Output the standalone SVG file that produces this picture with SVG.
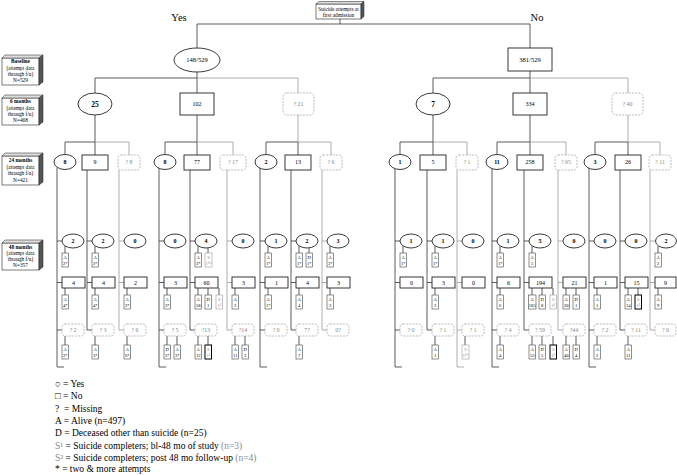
<svg xmlns="http://www.w3.org/2000/svg" width="677" height="475" viewBox="0 0 677 475">
<style>
.l{stroke:#333;stroke-width:.8;fill:none}
.g{stroke:#9a9a9a;stroke-width:.8;fill:none}
.e,.b{fill:#fff;stroke:#222;stroke-width:.9}
.m{fill:#fff;stroke:#aaa;stroke-width:.8;stroke-dasharray:2 1.2}
.s{fill:#fff;stroke:#444;stroke-width:.6}
.sg{fill:#fff;stroke:#999;stroke-width:.6}
.sk{fill:#fff;stroke:#000;stroke-width:1}
.side{fill:#555;stroke:#222;stroke-width:.5}
.top{fill:#ddd;stroke:#222;stroke-width:.5}
text{font-family:"Liberation Serif","Times New Roman",serif;fill:#000}
.c{text-anchor:middle}
.t6{font-size:6px;text-anchor:middle}
.t7{font-size:6.5px;text-anchor:middle}
.lb{font-size:5.3px;text-anchor:middle}
.st{font-size:4.6px;text-anchor:middle}
.bd{font-weight:bold}
.gt{fill:#8a8a8a}
.lg{font-size:9.5px}
</style>

<g id="connectors">
<path class="l" d="M340 19V24M197 24H530M197 24V48M530 24V48M197 72V78M95 78H197M95 78V93M197 78V93M530 71V78M433 78H530M433 78V93M530 78V93"/>
<path class="g" d="M197 78H298V93M530 78H628V93"/>
<path class="l" d="M95 115V142M65 142H95M65 142V154.5M95 142V155M197 115V142M165 142H197M165 142V154.5M197 142V155M266 142H298M266 142V154.5M298 142V155M433 115V142M400 142H433M400 142V154.5M433 142V155M530 115V142M497 142H530M497 142V154.5M530 142V155M595 142H628M595 142V154.5M628 142V155"/>
<path class="g" d="M95 142H129V155M197 142H233V155M298 115V142M298 142H331V155M433 142H467V155M530 142H566V155M628 115V142M628 142H660V155"/>
<path class="l" d="M57 167.5V367H64M57 241H62M57 282.5H62M57 330H62
M87 170V330H92M87 241H92M87 282.5H92
M159 168V367H166M159 241H164M159 282.5H164M159 330H164
M190 170V330H195M190 241H195M190 282.5H195
M260 168V367H267M260 241H265M260 282.5H265M260 330H265
M291 170V330H296M291 241H296M291 282.5H296
M395 168.5V367H402M395 241H400M395 282.5H400M395 330H400
M427 170V330H432M427 241H432M427 282.5H432
M492 168.5V367H499M492 241H497M492 282.5H497M492 330H497
M524 170V330H529M524 241H529M524 282.5H529
M589 168V367H596M589 241H594M589 282.5H594M589 330H594
M620 170V330H625M620 241H625M620 282.5H625"/>
<path class="g" d="M119 170V330H124M119 241H124M119 282.5H124
M227 170V330H232M227 241H232M227 282.5H232
M322 170V330H327M322 241H327M322 282.5H327
M457 170V367H464M457 241H462M457 282.5H462M457 330H462
M558 170V330H563M558 241H563M558 282.5H563
M650 170V330H655M650 241H655M650 282.5H655"/>
<path class="l" d="M65 246V253M65 288V295M65 336V345
M95 246V253M95 288V295M95 336V345
M127 288V295M127 336V345
M167 288V295M167 336V345M177 336V345
M198 246V253M208 248V253M198 288V295M208 288V295M219 288V295M198 336V345M208 336V345
M235 288V295M235 336V345M245 336V345
M268 246V253M268 288V295
M299 246V253M309 248V253M299 288V295M299 336V345
M330 246V253M330 288V295
M403 246V253
M435 246V253M435 288V295M435 336V345
M465 336V345
M500 246V253M500 288V295M500 336V345
M532 246V253M532 288V295M542 288V295M553 288V295M532 336V345M542 336V345M553 336V345
M566 288V295M576 288V295M566 336V345M576 336V345
M597 288V295M597 336V345
M628 288V295M638 288V295M628 336V345
M658 246V253M658 288V295"/>
</g>

<g id="labels">
<g id="lab-baseline"><rect x="2" y="58" width="37" height="27" fill="#fff" stroke="#222" stroke-width=".6"/><polygon class="top" points="2,58 5,55 43,55 39,58"/><polygon class="side" points="39,58 43,55 43,82 39,85"/>
<text class="lb bd" x="20.5" y="63">Baseline</text><text class="lb" x="20.5" y="69.5">(attempt data</text><text class="lb" x="20.5" y="75.5">through f/u)</text><text class="lb" x="20.5" y="81.5">N=529</text></g>
<g id="lab-6m"><rect x="2" y="98" width="37" height="27" fill="#fff" stroke="#222" stroke-width=".6"/><polygon class="top" points="2,98 5,95 43,95 39,98"/><polygon class="side" points="39,98 43,95 43,122 39,125"/>
<text class="lb bd" x="20.5" y="103">6 months</text><text class="lb" x="20.5" y="109.5">(attempt data</text><text class="lb" x="20.5" y="115.5">through f/u)</text><text class="lb" x="20.5" y="121.5">N=468</text></g>
<g id="lab-24m"><rect x="2" y="156" width="37" height="29" fill="#fff" stroke="#222" stroke-width=".6"/><polygon class="top" points="2,156 5,153 43,153 39,156"/><polygon class="side" points="39,156 43,153 43,182 39,185"/>
<text class="lb bd" x="20.5" y="162">24 months</text><text class="lb" x="20.5" y="168.5">(attempt data</text><text class="lb" x="20.5" y="175">through f/u)</text><text class="lb" x="20.5" y="181.5">N=421</text></g>
<g id="lab-48m"><rect x="2" y="243" width="37" height="27" fill="#fff" stroke="#222" stroke-width=".6"/><polygon class="top" points="2,243 5,240 43,240 39,243"/><polygon class="side" points="39,243 43,240 43,267 39,270"/>
<text class="lb bd" x="20.5" y="248.5">48 months</text><text class="lb" x="20.5" y="255">(attempt data</text><text class="lb" x="20.5" y="261">through f/u)</text><text class="lb" x="20.5" y="267">N=357</text></g>
<text x="179" y="21" class="c" font-size="10.5">Yes</text>
<text x="537" y="21" class="c" font-size="10.5">No</text>
</g>

<g id="root"><rect x="316" y="4" width="45" height="15" fill="#fff" stroke="#222" stroke-width=".6"/><polygon class="top" points="316,4 319,1.5 364,1.5 361,4"/><polygon class="side" points="361,4 364,1.5 364,16.5 361,19"/>
<text class="lb" x="338.5" y="10.5">Suicide attempts at</text><text class="lb" x="338.5" y="16.5">first admission</text></g>

<g id="n-148"><ellipse class="e" cx="197" cy="60" rx="23" ry="12"/><text class="t7" x="197" y="62.3">148/529</text></g>
<g id="n-381"><rect class="b" x="508" y="48" width="44" height="23"/><text class="t7" x="530" y="61.8">381/529</text></g>

<g id="n-25"><ellipse class="e" cx="95" cy="104" rx="17" ry="11"/><text class="c bd" font-size="7.5" x="95" y="106.7">25</text></g>
<g id="n-102"><rect class="b" x="180" y="93" width="34" height="22"/><text class="t6" x="197" y="106">102</text></g>
<g id="n-m21"><rect class="m" x="283" y="93" width="31" height="22" rx="4"/><text class="t6 gt" x="298.5" y="106">? 21</text></g>
<g id="n-7"><ellipse class="e" cx="433" cy="104" rx="17" ry="11"/><text class="c bd" font-size="7.5" x="433" y="106.7">7</text></g>
<g id="n-334"><rect class="b" x="513" y="93" width="34" height="22"/><text class="t6" x="530" y="106">334</text></g>
<g id="n-m40"><rect class="m" x="612" y="93" width="31" height="22" rx="4"/><text class="t6 gt" x="627.5" y="106">? 40</text></g>

<g id="level24">
<g id="a8"><ellipse class="e" cx="65" cy="162" rx="11" ry="7.5"/><text class="t6 bd" x="65" y="164.2">8</text></g>
<g id="a9"><rect class="b" x="82" y="155" width="26" height="15"/><text class="t6" x="95" y="164.2">9</text></g>
<g id="am8"><rect class="m" x="118" y="155" width="22" height="15" rx="3"/><text class="t6 gt" x="129" y="164.2">? 8</text></g>
<g id="b8"><ellipse class="e" cx="165" cy="162" rx="11" ry="7.5"/><text class="t6 bd" x="165" y="164.2">8</text></g>
<g id="b77"><rect class="b" x="184" y="155" width="26" height="15"/><text class="t6" x="197" y="164.2">77</text></g>
<g id="bm17"><rect class="m" x="220" y="155" width="26" height="15" rx="3"/><text class="t6 gt" x="233" y="164.2">? 17</text></g>
<g id="c2"><ellipse class="e" cx="266" cy="162" rx="11" ry="7.5"/><text class="t6 bd" x="266" y="164.2">2</text></g>
<g id="c13"><rect class="b" x="285" y="155" width="26" height="15"/><text class="t6" x="298" y="164.2">13</text></g>
<g id="cm6"><rect class="m" x="320" y="155" width="22" height="15" rx="3"/><text class="t6 gt" x="331" y="164.2">? 6</text></g>
<g id="d1"><ellipse class="e" cx="400" cy="162" rx="11" ry="7.5"/><text class="t6 bd" x="400" y="164.2">1</text></g>
<g id="d5"><rect class="b" x="420" y="155" width="26" height="15"/><text class="t6" x="433" y="164.2">5</text></g>
<g id="dm1"><rect class="m" x="456" y="155" width="22" height="15" rx="3"/><text class="t6 gt" x="467" y="164.2">? 1</text></g>
<g id="e11"><ellipse class="e" cx="497" cy="162" rx="11" ry="7.5"/><text class="t6 bd" x="497" y="164.2">11</text></g>
<g id="e258"><rect class="b" x="517" y="155" width="26" height="15"/><text class="t6" x="530" y="164.2">258</text></g>
<g id="em65"><rect class="m" x="555" y="155" width="22" height="15" rx="3"/><text class="t6 gt" x="566" y="164.2">? 65</text></g>
<g id="f3"><ellipse class="e" cx="595" cy="162" rx="11" ry="7.5"/><text class="t6 bd" x="595" y="164.2">3</text></g>
<g id="f26"><rect class="b" x="615" y="155" width="26" height="15"/><text class="t6" x="628" y="164.2">26</text></g>
<g id="fm11"><rect class="m" x="649" y="155" width="22" height="15" rx="3"/><text class="t6 gt" x="660" y="164.2">? 11</text></g>
</g>

<g id="level48">
<g id="c1y"><ellipse class="e" cx="73" cy="241" rx="11" ry="7"/><text class="t6 bd" x="73" y="243.2">2</text></g>
<g id="c1n"><rect class="b" x="62" y="277" width="23" height="11"/><text class="t6" x="73.5" y="284.6">4</text></g>
<g id="c1m"><rect class="m" x="62" y="324" width="22" height="12" rx="3"/><text class="t6 gt" x="73" y="332.2">? 2</text></g>
<g id="c1ya"><rect class="s" x="62" y="253" width="6.5" height="14"/><text class="st" x="65.25" y="258.7">A<tspan x="65.25" dy="6.1">2*</tspan></text></g>
<g id="c1na"><rect class="s" x="62" y="295" width="6.5" height="14"/><text class="st" x="65.25" y="300.7">A<tspan x="65.25" dy="6.1">4*</tspan></text></g>
<g id="c1ma"><rect class="s" x="62" y="345" width="6.5" height="14"/><text class="st" x="65.25" y="350.7">A<tspan x="65.25" dy="6.1">2*</tspan></text></g>
<g id="c2y"><ellipse class="e" cx="103" cy="241" rx="11" ry="7"/><text class="t6 bd" x="103" y="243.2">2</text></g>
<g id="c2n"><rect class="b" x="92" y="277" width="23" height="11"/><text class="t6" x="103.5" y="284.6">4</text></g>
<g id="c2m"><rect class="m" x="92" y="324" width="22" height="12" rx="3"/><text class="t6 gt" x="103" y="332.2">? 3</text></g>
<g id="c2ya"><rect class="s" x="92" y="253" width="6.5" height="14"/><text class="st" x="95.25" y="258.7">A<tspan x="95.25" dy="6.1">2*</tspan></text></g>
<g id="c2na"><rect class="s" x="92" y="295" width="6.5" height="14"/><text class="st" x="95.25" y="300.7">A<tspan x="95.25" dy="6.1">4*</tspan></text></g>
<g id="c2ma"><rect class="s" x="92" y="345" width="6.5" height="14"/><text class="st" x="95.25" y="350.7">A<tspan x="95.25" dy="6.1">3*</tspan></text></g>
<g id="c3y"><ellipse class="e" cx="135" cy="241" rx="11" ry="7"/><text class="t6 bd" x="135" y="243.2">0</text></g>
<g id="c3n"><rect class="b" x="124" y="277" width="23" height="11"/><text class="t6" x="135.5" y="284.6">2</text></g>
<g id="c3m"><rect class="m" x="124" y="324" width="22" height="12" rx="3"/><text class="t6 gt" x="135" y="332.2">? 6</text></g>
<g id="c3na"><rect class="s" x="124" y="295" width="6.5" height="14"/><text class="st" x="127.25" y="300.7">A<tspan x="127.25" dy="6.1">2*</tspan></text></g>
<g id="c3ma"><rect class="s" x="124" y="345" width="6.5" height="14"/><text class="st" x="127.25" y="350.7">A<tspan x="127.25" dy="6.1">6*</tspan></text></g>
<g id="c4y"><ellipse class="e" cx="175" cy="241" rx="11" ry="7"/><text class="t6 bd" x="175" y="243.2">0</text></g>
<g id="c4n"><rect class="b" x="164" y="277" width="23" height="11"/><text class="t6" x="175.5" y="284.6">3</text></g>
<g id="c4m"><rect class="m" x="164" y="324" width="22" height="12" rx="3"/><text class="t6 gt" x="175" y="332.2">? 5</text></g>
<g id="c4na"><rect class="s" x="164" y="295" width="6.5" height="14"/><text class="st" x="167.25" y="300.7">A<tspan x="167.25" dy="6.1">3*</tspan></text></g>
<g id="c4md"><rect class="s" x="164" y="345" width="6.5" height="14"/><text class="st" x="167.25" y="350.7">D<tspan x="167.25" dy="6.1">2*</tspan></text></g>
<g id="c4ma"><rect class="s" x="174" y="345" width="6.5" height="14"/><text class="st" x="177.25" y="350.7">A<tspan x="177.25" dy="6.1">3*</tspan></text></g>
<g id="c5y"><ellipse class="e" cx="206" cy="241" rx="11" ry="7"/><text class="t6 bd" x="206" y="243.2">4</text></g>
<g id="c5n"><rect class="b" x="195" y="277" width="23" height="11"/><text class="t6" x="206.5" y="284.6">60</text></g>
<g id="c5m"><rect class="m" x="195" y="324" width="22" height="12" rx="3"/><text class="t6 gt" x="206" y="332.2">?13</text></g>
<g id="c5ya"><rect class="s" x="195" y="253" width="6.5" height="14"/><text class="st" x="198.25" y="258.7">A<tspan x="198.25" dy="6.1">3*</tspan></text></g>
<g id="c5ys"><rect class="sg" x="205" y="253" width="7" height="14"/><text class="st gt" x="208.5" y="258.7">S<tspan x="208.5" dy="6.1">1²*</tspan></text></g>
<g id="c5na"><rect class="s" x="195" y="295" width="6.5" height="14"/><text class="st" x="198.25" y="300.7">A<tspan x="198.25" dy="6.1">58</tspan></text></g>
<g id="c5nd"><rect class="s" x="205" y="295" width="6.5" height="14"/><text class="st" x="208.25" y="300.7">D<tspan x="208.25" dy="6.1">1</tspan></text></g>
<g id="c5ns"><rect class="sg" x="216" y="295" width="6.5" height="14"/><text class="st gt" x="219.25" y="300.7">S<tspan x="219.25" dy="6.1">1¹</tspan></text></g>
<g id="c5ma"><rect class="s" x="195" y="345" width="6.5" height="14"/><text class="st" x="198.25" y="350.7">A<tspan x="198.25" dy="6.1">12</tspan></text></g>
<g id="c5ms"><rect class="sk" x="205" y="345" width="6.5" height="14"/><text class="st gt" x="208.25" y="350.7">S<tspan x="208.25" dy="6.1">1¹</tspan></text></g>
<g id="c6y"><ellipse class="e" cx="243" cy="241" rx="11" ry="7"/><text class="t6 bd" x="243" y="243.2">0</text></g>
<g id="c6n"><rect class="b" x="232" y="277" width="23" height="11"/><text class="t6" x="243.5" y="284.6">3</text></g>
<g id="c6m"><rect class="m" x="232" y="324" width="22" height="12" rx="3"/><text class="t6 gt" x="243" y="332.2">?14</text></g>
<g id="c6na"><rect class="s" x="232" y="295" width="6.5" height="14"/><text class="st" x="235.25" y="300.7">A<tspan x="235.25" dy="6.1">3</tspan></text></g>
<g id="c6ma"><rect class="s" x="232" y="345" width="6.5" height="14"/><text class="st" x="235.25" y="350.7">A<tspan x="235.25" dy="6.1">11</tspan></text></g>
<g id="c6md"><rect class="s" x="242" y="345" width="6.5" height="14"/><text class="st" x="245.25" y="350.7">D<tspan x="245.25" dy="6.1">3</tspan></text></g>
<g id="c7y"><ellipse class="e" cx="276" cy="241" rx="11" ry="7"/><text class="t6 bd" x="276" y="243.2">1</text></g>
<g id="c7n"><rect class="b" x="265" y="277" width="23" height="11"/><text class="t6" x="276.5" y="284.6">1</text></g>
<g id="c7m"><rect class="m" x="265" y="324" width="22" height="12" rx="3"/><text class="t6 gt" x="276" y="332.2">? 0</text></g>
<g id="c7ya"><rect class="s" x="265" y="253" width="6.5" height="14"/><text class="st" x="268.25" y="258.7">A<tspan x="268.25" dy="6.1">1*</tspan></text></g>
<g id="c7na"><rect class="s" x="265" y="295" width="6.5" height="14"/><text class="st" x="268.25" y="300.7">A<tspan x="268.25" dy="6.1">1*</tspan></text></g>
<g id="c8y"><ellipse class="e" cx="307" cy="241" rx="11" ry="7"/><text class="t6 bd" x="307" y="243.2">2</text></g>
<g id="c8n"><rect class="b" x="296" y="277" width="23" height="11"/><text class="t6" x="307.5" y="284.6">4</text></g>
<g id="c8m"><rect class="m" x="296" y="324" width="22" height="12" rx="3"/><text class="t6 gt" x="307" y="332.2">7?</text></g>
<g id="c8ya"><rect class="s" x="296" y="253" width="6.5" height="14"/><text class="st" x="299.25" y="258.7">A<tspan x="299.25" dy="6.1">1*</tspan></text></g>
<g id="c8yd"><rect class="s" x="306" y="253" width="6.5" height="14"/><text class="st" x="309.25" y="258.7">D<tspan x="309.25" dy="6.1">1*</tspan></text></g>
<g id="c8na"><rect class="s" x="296" y="295" width="6.5" height="14"/><text class="st" x="299.25" y="300.7">A<tspan x="299.25" dy="6.1">4</tspan></text></g>
<g id="c8ma"><rect class="s" x="296" y="345" width="6.5" height="14"/><text class="st" x="299.25" y="350.7">A<tspan x="299.25" dy="6.1">7</tspan></text></g>
<g id="c9y"><ellipse class="e" cx="338" cy="241" rx="11" ry="7"/><text class="t6 bd" x="338" y="243.2">3</text></g>
<g id="c9n"><rect class="b" x="327" y="277" width="23" height="11"/><text class="t6" x="338.5" y="284.6">3</text></g>
<g id="c9m"><rect class="m" x="327" y="324" width="22" height="12" rx="3"/><text class="t6 gt" x="338" y="332.2">0?</text></g>
<g id="c9ya"><rect class="s" x="327" y="253" width="6.5" height="14"/><text class="st" x="330.25" y="258.7">A<tspan x="330.25" dy="6.1">3*</tspan></text></g>
<g id="c9na"><rect class="s" x="327" y="295" width="6.5" height="14"/><text class="st" x="330.25" y="300.7">A<tspan x="330.25" dy="6.1">3</tspan></text></g>
<g id="c10y"><ellipse class="e" cx="411" cy="241" rx="11" ry="7"/><text class="t6 bd" x="411" y="243.2">1</text></g>
<g id="c10n"><rect class="b" x="400" y="277" width="23" height="11"/><text class="t6" x="411.5" y="284.6">0</text></g>
<g id="c10m"><rect class="m" x="400" y="324" width="22" height="12" rx="3"/><text class="t6 gt" x="411" y="332.2">? 0</text></g>
<g id="c10ya"><rect class="s" x="400" y="253" width="6.5" height="14"/><text class="st" x="403.25" y="258.7">A<tspan x="403.25" dy="6.1">1*</tspan></text></g>
<g id="c11y"><ellipse class="e" cx="443" cy="241" rx="11" ry="7"/><text class="t6 bd" x="443" y="243.2">1</text></g>
<g id="c11n"><rect class="b" x="432" y="277" width="23" height="11"/><text class="t6" x="443.5" y="284.6">3</text></g>
<g id="c11m"><rect class="m" x="432" y="324" width="22" height="12" rx="3"/><text class="t6 gt" x="443" y="332.2">? 1</text></g>
<g id="c11ya"><rect class="s" x="432" y="253" width="6.5" height="14"/><text class="st" x="435.25" y="258.7">A<tspan x="435.25" dy="6.1">1*</tspan></text></g>
<g id="c11na"><rect class="s" x="432" y="295" width="6.5" height="14"/><text class="st" x="435.25" y="300.7">A<tspan x="435.25" dy="6.1">3</tspan></text></g>
<g id="c11ma"><rect class="s" x="432" y="345" width="6.5" height="14"/><text class="st" x="435.25" y="350.7">A<tspan x="435.25" dy="6.1">1</tspan></text></g>
<g id="c12y"><ellipse class="e" cx="473" cy="241" rx="11" ry="7"/><text class="t6 bd" x="473" y="243.2">0</text></g>
<g id="c12n"><rect class="b" x="462" y="277" width="23" height="11"/><text class="t6" x="473.5" y="284.6">0</text></g>
<g id="c12m"><rect class="m" x="462" y="324" width="22" height="12" rx="3"/><text class="t6 gt" x="473" y="332.2">? 1</text></g>
<g id="c12ms"><rect class="sg" x="462" y="345" width="7" height="14"/><text class="st gt" x="465.5" y="350.7">S<tspan x="465.5" dy="6.1">1²*</tspan></text></g>
<g id="c13y"><ellipse class="e" cx="508" cy="241" rx="11" ry="7"/><text class="t6 bd" x="508" y="243.2">1</text></g>
<g id="c13n"><rect class="b" x="497" y="277" width="23" height="11"/><text class="t6" x="508.5" y="284.6">6</text></g>
<g id="c13m"><rect class="m" x="497" y="324" width="22" height="12" rx="3"/><text class="t6 gt" x="508" y="332.2">? 4</text></g>
<g id="c13ya"><rect class="s" x="497" y="253" width="6.5" height="14"/><text class="st" x="500.25" y="258.7">A<tspan x="500.25" dy="6.1">1*</tspan></text></g>
<g id="c13na"><rect class="s" x="497" y="295" width="6.5" height="14"/><text class="st" x="500.25" y="300.7">A<tspan x="500.25" dy="6.1">6</tspan></text></g>
<g id="c13ma"><rect class="s" x="497" y="345" width="6.5" height="14"/><text class="st" x="500.25" y="350.7">A<tspan x="500.25" dy="6.1">4</tspan></text></g>
<g id="c14y"><ellipse class="e" cx="540" cy="241" rx="11" ry="7"/><text class="t6 bd" x="540" y="243.2">5</text></g>
<g id="c14n"><rect class="b" x="529" y="277" width="23" height="11"/><text class="t6" x="540.5" y="284.6">194</text></g>
<g id="c14m"><rect class="m" x="529" y="324" width="22" height="12" rx="3"/><text class="t6 gt" x="540" y="332.2">? 59</text></g>
<g id="c14ya"><rect class="s" x="529" y="253" width="6.5" height="14"/><text class="st" x="532.25" y="258.7">A<tspan x="532.25" dy="6.1">5</tspan></text></g>
<g id="c14na"><rect class="s" x="528.5" y="295" width="7.5" height="14"/><text class="st" x="532.25" y="300.7">A<tspan x="532.25" dy="6.1">185</tspan></text></g>
<g id="c14nd"><rect class="s" x="539" y="295" width="6.5" height="14"/><text class="st" x="542.25" y="300.7">D<tspan x="542.25" dy="6.1">8</tspan></text></g>
<g id="c14ns"><rect class="sg" x="550" y="295" width="6.5" height="14"/><text class="st gt" x="553.25" y="300.7">S<tspan x="553.25" dy="6.1">1¹</tspan></text></g>
<g id="c14ma"><rect class="s" x="529" y="345" width="6.5" height="14"/><text class="st" x="532.25" y="350.7">A<tspan x="532.25" dy="6.1">53</tspan></text></g>
<g id="c14md"><rect class="s" x="539" y="345" width="6.5" height="14"/><text class="st" x="542.25" y="350.7">D<tspan x="542.25" dy="6.1">5</tspan></text></g>
<g id="c14ms"><rect class="sk" x="550" y="345" width="6.5" height="14"/><text class="st gt" x="553.25" y="350.7">S<tspan x="553.25" dy="6.1">1¹</tspan></text></g>
<g id="c15y"><ellipse class="e" cx="574" cy="241" rx="11" ry="7"/><text class="t6 bd" x="574" y="243.2">0</text></g>
<g id="c15n"><rect class="b" x="563" y="277" width="23" height="11"/><text class="t6" x="574.5" y="284.6">21</text></g>
<g id="c15m"><rect class="m" x="563" y="324" width="22" height="12" rx="3"/><text class="t6 gt" x="574" y="332.2">?44</text></g>
<g id="c15na"><rect class="s" x="563" y="295" width="6.5" height="14"/><text class="st" x="566.25" y="300.7">A<tspan x="566.25" dy="6.1">20</tspan></text></g>
<g id="c15nd"><rect class="s" x="573" y="295" width="6.5" height="14"/><text class="st" x="576.25" y="300.7">D<tspan x="576.25" dy="6.1">1</tspan></text></g>
<g id="c15ma"><rect class="s" x="563" y="345" width="6.5" height="14"/><text class="st" x="566.25" y="350.7">A<tspan x="566.25" dy="6.1">40</tspan></text></g>
<g id="c15md"><rect class="s" x="573" y="345" width="6.5" height="14"/><text class="st" x="576.25" y="350.7">D<tspan x="576.25" dy="6.1">4</tspan></text></g>
<g id="c16y"><ellipse class="e" cx="605" cy="241" rx="11" ry="7"/><text class="t6 bd" x="605" y="243.2">0</text></g>
<g id="c16n"><rect class="b" x="594" y="277" width="23" height="11"/><text class="t6" x="605.5" y="284.6">1</text></g>
<g id="c16m"><rect class="m" x="594" y="324" width="22" height="12" rx="3"/><text class="t6 gt" x="605" y="332.2">? 2</text></g>
<g id="c16na"><rect class="s" x="594" y="295" width="6.5" height="14"/><text class="st" x="597.25" y="300.7">A<tspan x="597.25" dy="6.1">1</tspan></text></g>
<g id="c16ma"><rect class="s" x="594" y="345" width="6.5" height="14"/><text class="st" x="597.25" y="350.7">A<tspan x="597.25" dy="6.1">2</tspan></text></g>
<g id="c17y"><ellipse class="e" cx="636" cy="241" rx="11" ry="7"/><text class="t6 bd" x="636" y="243.2">0</text></g>
<g id="c17n"><rect class="b" x="625" y="277" width="23" height="11"/><text class="t6" x="636.5" y="284.6">15</text></g>
<g id="c17m"><rect class="m" x="625" y="324" width="22" height="12" rx="3"/><text class="t6 gt" x="636" y="332.2">? 11</text></g>
<g id="c17na"><rect class="s" x="625" y="295" width="6.5" height="14"/><text class="st" x="628.25" y="300.7">A<tspan x="628.25" dy="6.1">14</tspan></text></g>
<g id="c17ns"><rect class="sk" x="635" y="295" width="6.5" height="14"/><text class="st gt" x="638.25" y="300.7">S<tspan x="638.25" dy="6.1">1¹</tspan></text></g>
<g id="c17ma"><rect class="s" x="625" y="345" width="6.5" height="14"/><text class="st" x="628.25" y="350.7">A<tspan x="628.25" dy="6.1">11</tspan></text></g>
<g id="c18y"><ellipse class="e" cx="666" cy="241" rx="10.5" ry="7"/><text class="t6 bd" x="666" y="243.2">2</text></g>
<g id="c18n"><rect class="b" x="655" y="277" width="21" height="11"/><text class="t6" x="665.5" y="284.6">9</text></g>
<g id="c18m"><rect class="m" x="655" y="324" width="21" height="12" rx="3"/><text class="t6 gt" x="665.5" y="332.2">? 0</text></g>
<g id="c18ya"><rect class="s" x="655" y="253" width="6.5" height="14"/><text class="st" x="658.25" y="258.7">A<tspan x="658.25" dy="6.1">2</tspan></text></g>
<g id="c18na"><rect class="s" x="655" y="295" width="6.5" height="14"/><text class="st" x="658.25" y="300.7">A<tspan x="658.25" dy="6.1">9</tspan></text></g>
</g>

<g id="legend" class="lg">
<text class="lg" x="55" y="386.5">○ = Yes</text>
<text class="lg" x="55" y="399">□ = No</text>
<text class="lg" x="55" y="411.5">?&#160; = Missing</text>
<text class="lg" x="55" y="424">A = Alive (n=497)</text>
<text class="lg" x="55" y="436">D = Deceased other than suicide (n=25)</text>
<text class="lg" x="55" y="448.5"><tspan class="gt">S¹</tspan> = Suicide completers; bl-48 mo of study <tspan class="gt">(n=3)</tspan></text>
<text class="lg" x="55" y="460.5"><tspan class="gt">S²</tspan> = Suicide completers; post 48 mo follow-up <tspan class="gt">(n=4)</tspan></text>
<text class="lg" x="55" y="472">* = two &amp; more attempts</text>
</g>
</svg>
